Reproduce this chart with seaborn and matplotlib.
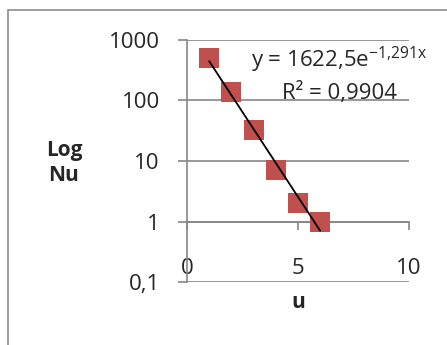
import numpy as np
import matplotlib
matplotlib.use('Agg')
import matplotlib.pyplot as plt
import matplotlib.patches as mpatches
import seaborn as sns

# values
u_values = [1, 2, 3, 4, 5, 6]
nu_values = [500, 137, 33, 7.2, 2.0, 1.0]
fit_a = 1622.5
fit_b = -1.291
r_squared = '0,9904'
y_ticks = [0.1, 1, 10, 100, 1000]
y_labels = ['0,1', '1', '10', '100', '1000']
x_ticks = [0, 5, 10]
x_labels = ['0', '5', '10']

sns.set_style('white')
plt.rcParams['font.family'] = ['Open Sans', 'DejaVu Sans']
plt.rcParams['mathtext.fontset'] = 'custom'
plt.rcParams['mathtext.rm'] = 'Open Sans'
plt.rcParams['mathtext.it'] = 'Open Sans'

GRID = '#868686'
RED = '#C0504D'

fig = plt.figure(figsize=(4.47, 3.45), dpi=100)
ax = fig.add_axes([187 / 447, 1 - 282 / 345, 222 / 447, 242 / 345])

# outer chart border (runs off the right and bottom edge)
border = mpatches.Rectangle((8 / 447, -0.1), 1.2, 1 - 10 / 345 + 0.1,
                            transform=fig.transFigure, fill=False,
                            edgecolor='#8c8c8c', linewidth=1.2)
fig.patches.append(border)

sns.scatterplot(x=u_values, y=nu_values, marker='s', s=207, color=RED,
                linewidth=0, ax=ax, zorder=3)

xs = np.linspace(u_values[0], u_values[-1], 50)
sns.lineplot(x=xs, y=fit_a * np.exp(fit_b * xs), color='black',
             linewidth=1.3, ax=ax, zorder=4)

ax.set_yscale('log')
ax.set_xlim(0, 10)
ax.set_ylim(0.1, 1000)
ax.set_yticks(y_ticks)
ax.set_yticklabels(y_labels)
ax.yaxis.set_minor_locator(matplotlib.ticker.NullLocator())
ax.set_xticks(x_ticks)
ax.set_xticklabels(x_labels)

ax.grid(axis='y', color=GRID, linewidth=1.2)
ax.grid(axis='x', visible=False)
for side in ['top', 'right']:
    ax.spines[side].set_visible(False)
ax.spines['left'].set_color(GRID)
ax.spines['left'].set_linewidth(1.2)
ax.spines['bottom'].set_position(('data', 1))
ax.spines['bottom'].set_color(GRID)
ax.spines['bottom'].set_linewidth(1.2)

ax.tick_params(axis='y', direction='out', length=6.5, width=1.2, color=GRID,
               pad=13, labelsize=16, left=True)
ax.tick_params(axis='x', direction='out', length=6, width=1.2, color=GRID,
               pad=20, labelsize=16, bottom=True)

# trendline label
fig.text(339 / 447, 1 - 60 / 345, r'y = 1622,5e$^{\mathregular{-1{,}291x}}$',
         ha='center', va='center', fontsize=16)
fig.text(339 / 447, 1 - 93 / 345, 'R² = ' + r_squared,
         ha='center', va='center', fontsize=16)

fig.text(64 / 447, 1 - 163 / 345, 'Log\nNu', ha='center', va='center',
         fontsize=15, fontweight='bold', linespacing=1.3)
fig.text(298 / 447, 1 - 302 / 345, 'u', ha='center', va='center',
         fontsize=15, fontweight='bold')

fig.savefig('out.png', dpi=100)
